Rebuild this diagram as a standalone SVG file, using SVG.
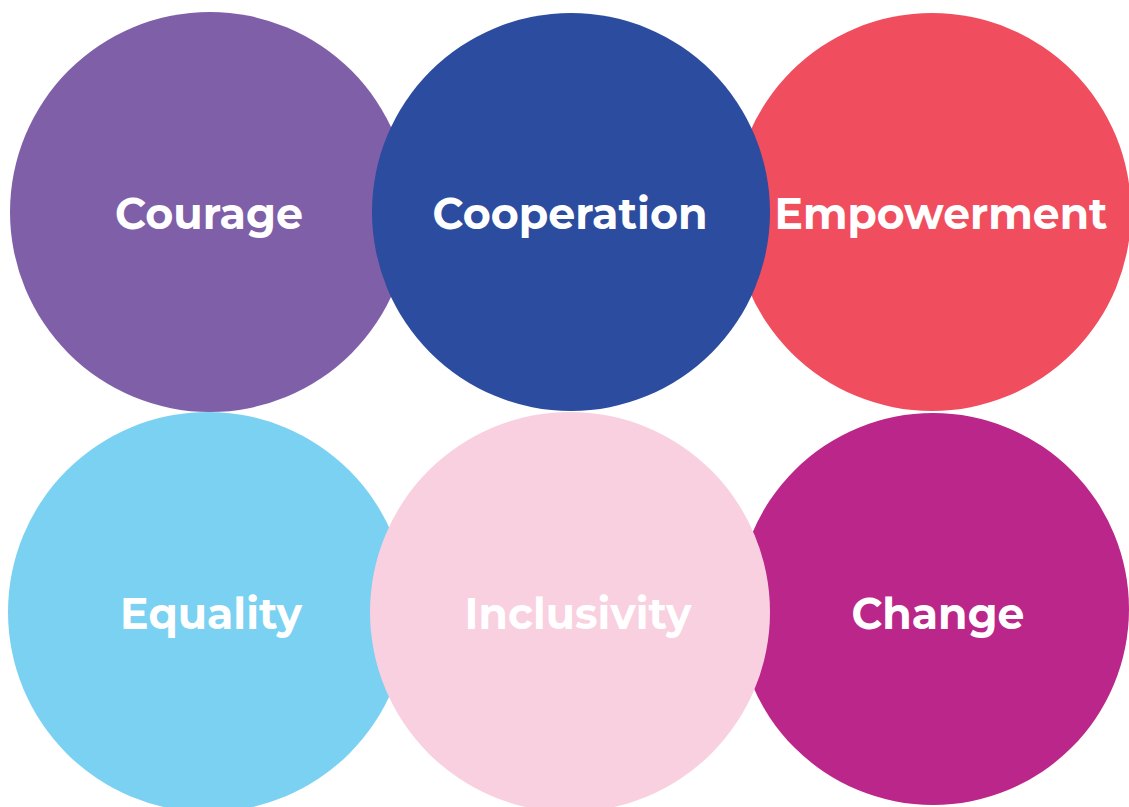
<svg xmlns="http://www.w3.org/2000/svg" width="1129" height="807" viewBox="0 0 1129 807">
<style>
.lbl{font-family:Montserrat,Inter,"Open Sans","Liberation Sans",sans-serif;font-weight:700;font-size:43px;fill:#ffffff;text-anchor:middle}
</style>
<rect width="1129" height="807" fill="#ffffff"/>
<g id="courage"><circle cx="210" cy="212" r="200" fill="#7F5FA8"/><text class="lbl" x="209" y="229" textLength="188" lengthAdjust="spacingAndGlyphs">Courage</text></g>
<g id="empowerment"><circle cx="932" cy="212" r="199" fill="#F04E5E"/><text class="lbl" x="941" y="229" textLength="333" lengthAdjust="spacingAndGlyphs">Empowerment</text></g>
<g id="cooperation"><circle cx="571" cy="212" r="199" fill="#2B4C9F"/><text class="lbl" x="570" y="229" textLength="275" lengthAdjust="spacingAndGlyphs">Cooperation</text></g>
<g id="equality"><circle cx="208" cy="612" r="200" fill="#7BD1F2"/><text class="lbl" x="211" y="629" textLength="182" lengthAdjust="spacingAndGlyphs">Equality</text></g>
<g id="change"><circle cx="933" cy="609" r="196" fill="#BA2689"/><text class="lbl" x="938" y="629" textLength="173" lengthAdjust="spacingAndGlyphs">Change</text></g>
<g id="inclusivity"><circle cx="570" cy="612" r="200" fill="#F8D0DF"/><text class="lbl" x="578" y="629" textLength="227" lengthAdjust="spacingAndGlyphs">Inclusivity</text></g>
<g id="connectors"></g>
</svg>
